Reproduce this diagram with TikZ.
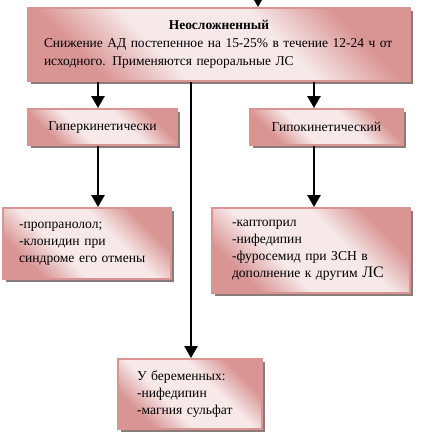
\documentclass[tikz,border=0pt]{standalone}
\usepackage{fontspec}
\setmainfont{Liberation Serif}
\usetikzlibrary{arrows.meta,shadows}
\definecolor{pinkD}{HTML}{D99594}
\definecolor{pinkL}{HTML}{F7E9E9}
\definecolor{shadowC}{HTML}{8C7B7B}
\pgfdeclarehorizontalshading{boxshade}{100bp}{color(0bp)=(pinkD); color(27bp)=(pinkD); color(40bp)=(pinkL); color(60bp)=(pinkL); color(73bp)=(pinkD); color(100bp)=(pinkD)}
\tikzset{
  box/.style={rectangle, anchor=north west, draw=pinkD, line width=1.5pt,
    shading=boxshade, shading angle=45,
    drop shadow={shadow xshift=2.6pt, shadow yshift=-2.6pt, fill=shadowC, opacity=1},
    font=\fontsize{10.2}{12.75}\selectfont, inner ysep=0pt, align=left},
  arr/.style={line width=1.3pt, -{Triangle[width=10pt,length=9pt]}}
}
\begin{document}
\begin{tikzpicture}[x=0.75pt,y=-0.75pt]
\useasboundingbox (0,0) rectangle (429,439);
% boxes
\node[box, minimum width=286.5pt, minimum height=54.75pt, inner xsep=12pt, text width=262.5pt,
  font=\fontsize{10.1}{13.5}\selectfont] (top) at (27,7)
  {\makebox[\linewidth][c]{\textbf{Неосложненный}}\\\mbox{Снижение АД постепенное на 15-25\% в течение 12-24 ч от}\\исходного. Применяются пероральные ЛС};
\node[box, minimum width=111.75pt, minimum height=27pt, align=center] (hyper) at (27,108) {Гиперкинетически};
\node[box, minimum width=114.75pt, minimum height=27pt, align=center] (hypo) at (249,108) {Гипокинетический};
\node[box, minimum width=126pt, minimum height=53.25pt, inner xsep=12pt, text width=102pt] (ldrug) at (2,207)
  {-пропранолол;\\-клонидин при\\синдроме его отмены};
\node[box, minimum width=148.5pt, minimum height=63.75pt, inner xsep=15pt, text width=118.5pt] (rdrug) at (211,207)
  {-каптоприл\\-нифедипин\\-фуросемид при ЗСН в\\дополнение к другим {\fontsize{12}{12.75}\selectfont ЛС}};
\node[box, minimum width=108pt, minimum height=52.5pt, inner xsep=14.25pt, text width=79.5pt] (preg) at (117,358)
  {У беременных:\\-нифедипин\\-магния сульфат};
% connectors
\coordinate (in) at (258,-4);
\coordinate (cl) at (98,0);
\coordinate (cr) at (314,0);
\coordinate (cm) at (191,0);
\draw[arr] (in) -- (top.north -| in);
\draw[arr] (top.south -| cl) -- (hyper.north -| cl);
\draw[arr] (hyper.south -| cl) -- (ldrug.north -| cl);
\draw[arr] (top.south -| cr) -- (hypo.north -| cr);
\draw[arr] (hypo.south -| cr) -- (rdrug.north -| cr);
\draw[arr] (top.south -| cm) -- (preg.north -| cm);
\end{tikzpicture}
\end{document}
